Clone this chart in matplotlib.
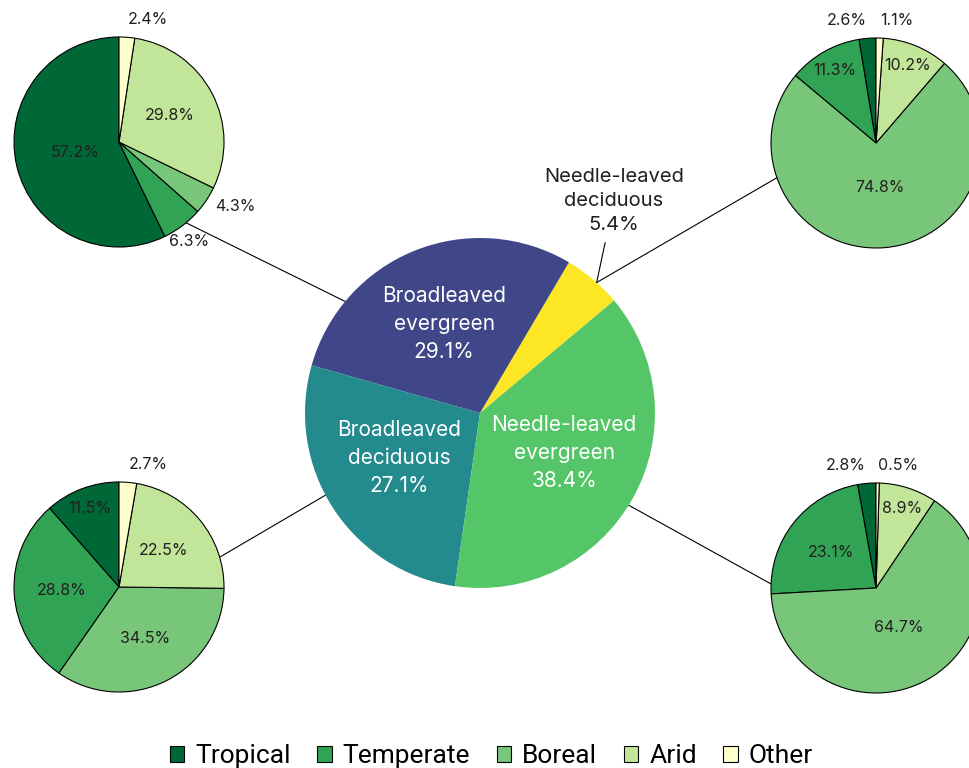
import numpy as np
import matplotlib
matplotlib.use('Agg')
import matplotlib.pyplot as plt
from matplotlib.patches import Patch

plt.rcParams['font.family'] = ['Inter', 'DejaVu Sans']

# central pie: forest types
types = ['Needle-leaved\ndeciduous', 'Broadleaved\nevergreen', 'Broadleaved\ndeciduous', 'Needle-leaved\nevergreen']
type_share = [5.4, 29.1, 27.1, 38.4]
type_colors = ['#fde725', '#404788', '#238a8d', '#55c667']

# small pies: climate zones per forest type
zones = ['Tropical', 'Temperate', 'Boreal', 'Arid', 'Other']
zone_colors = ['#006837', '#31a354', '#78c679', '#c2e699', '#ffffcc']
broad_evergreen = [57.2, 6.3, 4.3, 29.8, 2.4]
needle_deciduous = [2.6, 11.3, 74.8, 10.2, 1.1]
broad_deciduous = [11.5, 28.8, 34.5, 22.5, 2.7]
needle_evergreen = [2.8, 23.1, 64.7, 8.9, 0.5]

W, H = 969, 768
fig = plt.figure(figsize=(W / 100, H / 100), dpi=100)
ax = fig.add_axes([0, 0, 1, 1])

big_c, big_r = (480, 355), 175
small_r = 105
# (values, centre, angle on small pie, angle on big pie) for the connectors
small = [
    (broad_evergreen, (119, 626), -50.3, 140.4),
    (needle_deciduous, (876, 625), 199.3, 48.2),
    (broad_deciduous, (119, 181), 16.5, 208.0),
    (needle_evergreen, (876, 180), 177.8, -31.8),
]


def edge(c, r, ang):
    a = np.radians(ang)
    return c[0] + r * np.cos(a), c[1] + r * np.sin(a)


txt_col = '#231f20'

for vals, c, a_small, a_big in small:
    p1 = edge(c, small_r, a_small)
    p2 = edge(big_c, big_r, a_big)
    ax.plot([p1[0], p2[0]], [p1[1], p2[1]], color='black', lw=0.8, zorder=1)

    wedges, _ = ax.pie(vals, colors=zone_colors, startangle=90, counterclock=True,
                       center=c, radius=small_r, frame=True,
                       wedgeprops=dict(edgecolor='black', linewidth=0.8))
    for w, v in zip(wedges, vals):
        mid = np.radians((w.theta1 + w.theta2) / 2)
        cs, sn = np.cos(mid), np.sin(mid)
        if v < 7:
            d = 1.1
            if sn > 0.9:
                ha = 'left' if cs > 0 else 'right'
                va = 'bottom'
            else:
                ha = 'left' if cs > 0.7 else ('right' if cs < -0.7 else 'center')
                va = 'top' if sn < -0.7 else ('bottom' if sn > 0.7 else 'center')
        else:
            d = 0.43 if v >= 40 else (0.55 if v >= 15 else 0.8)
            ha, va = 'center', 'center'
        ax.text(c[0] + d * small_r * cs, c[1] + d * small_r * sn, f'{v}%',
                ha=ha, va=va, fontsize=11.5, color=txt_col)

# central pie
wedges, _ = ax.pie(type_share, colors=type_colors, startangle=40, counterclock=True,
                   center=big_c, radius=big_r, frame=True,
                   wedgeprops=dict(edgecolor='none'))
for w, name, v in zip(wedges[1:], types[1:], type_share[1:]):
    mid = np.radians((w.theta1 + w.theta2) / 2)
    lift = 0 if np.sin(mid) > 0 else 7
    ax.text(big_c[0] + 0.55 * big_r * np.cos(mid), big_c[1] + 0.55 * big_r * np.sin(mid) + lift,
            f'{name}\n{v}%', ha='center', va='center', fontsize=15,
            color='white', linespacing=1.5)

ax.annotate(f'{types[0]}\n{type_share[0]}%', xy=edge(big_c, big_r, 48.2),
            xytext=(614, 567), ha='center', va='center', fontsize=14.5,
            color=txt_col, linespacing=1.45,
            arrowprops=dict(arrowstyle='-', color='black', lw=0.8, shrinkA=4, shrinkB=0))

ax.set_xlim(0, W)
ax.set_ylim(0, H)
ax.set_aspect('equal')
ax.axis('off')

handles = [Patch(facecolor=col, edgecolor='black', linewidth=0.8) for col in zone_colors]
fig.legend(handles, zones, loc='lower center', bbox_to_anchor=(0.507, 0.0), ncol=5,
           frameon=False, prop={'family': ['Roboto'], 'size': 19},
           handlelength=0.55, handleheight=0.55, handletextpad=0.42,
           columnspacing=1.0, borderpad=0, borderaxespad=0)

fig.savefig('out.png', dpi=100)
